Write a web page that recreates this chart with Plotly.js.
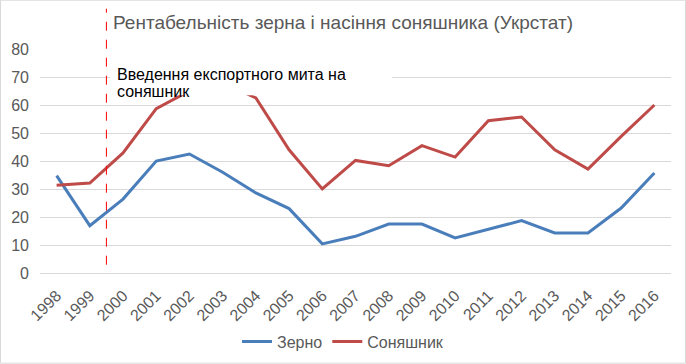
<!DOCTYPE html>
<html><head><meta charset="utf-8">
<script src="https://cdn.plot.ly/plotly-3.0.1.min.js"></script>
<style>html,body{margin:0;padding:0;background:#fff}#chart{width:686px;height:364px}</style>
</head><body><div id="chart"></div>
<script>
const years = [1998,1999,2000,2001,2002,2003,2004,2005,2006,2007,2008,2009,2010,2011,2012,2013,2014,2015,2016];
const zerno = [34.8,16.9,26.4,40.0,42.5,36.0,28.6,23.0,10.4,13.1,17.5,17.5,12.5,15.7,18.7,14.3,14.3,23.2,35.7];
const sonyashnyk = [31.3,32.1,42.9,58.7,65.0,68.0,62.5,44.0,30.0,40.2,38.3,45.5,41.4,54.4,55.7,44.0,37.1,48.8,60.0];
const seriesNames = ['Зерно','Соняшник'];
const titleText = 'Рентабельність зерна і насіння соняшника (Укрстат)';
const noteLine1 = 'Введення експортного мита на';
const noteLine2 = 'соняшник';
const dutyYear = 1999.5;

const font = 'Liberation Sans, Arial, sans-serif';
const traces = [
  {x: years, y: zerno, name: seriesNames[0], type: 'scatter', mode: 'lines',
   line: {color: '#4A7EBB', width: 3}},
  {x: years, y: sonyashnyk, name: seriesNames[1], type: 'scatter', mode: 'lines',
   line: {color: '#BE4B48', width: 3}}
];
const layout = {
  width: 686, height: 364,
  margin: {l: 40, r: 15, t: 49.3, b: 90.7, autoexpand: false},
  paper_bgcolor: '#fff', plot_bgcolor: '#fff',
  font: {family: font, color: '#595959', size: 16},
  title: {text: titleText, xref: 'container', yref: 'container', x: 113/686, xanchor: 'left',
          y: 1 - 22/364, yanchor: 'middle', font: {family: font, size: 19, color: '#595959'}},
  xaxis: {range: [1997.5, 2016.5], tickmode: 'array', tickvals: years, ticktext: years.map(String),
          tickangle: -45, showgrid: false, zeroline: false, showline: true, linecolor: '#D9D9D9',
          ticks: '', tickfont: {size: 16, color: '#595959'}, ticklabelstandoff: 6, automargin: false, fixedrange: true},
  yaxis: {range: [0, 80], dtick: 10, showgrid: true, gridcolor: '#D9D9D9', gridwidth: 1,
          zeroline: false, showline: false, ticks: '', tickfont: {size: 16, color: '#595959'},
          ticklabelstandoff: 10, automargin: false, fixedrange: true},
  showlegend: true,
  legend: {orientation: 'h', x: (343-40)/631, xanchor: 'center', y: (273.3-342)/224, yanchor: 'middle',
           font: {size: 16, color: '#595959'}, itemwidth: 30, bgcolor: 'rgba(0,0,0,0)'},
  shapes: [
    {type: 'rect', xref: 'paper', yref: 'paper', x0: -39.5/631, x1: 645.5/631,
     y0: (273.3-363.5)/224, y1: (273.3-0.5)/224, line: {color: '#D9D9D9', width: 1}, layer: 'below'},
    {type: 'line', xref: 'x', yref: 'paper', x0: dutyYear, x1: dutyYear,
     y0: (273.3-265)/224, y1: (273.3-9)/224, line: {color: '#FF0000', width: 1, dash: 'dash'}},
    {type: 'rect', xref: 'paper', yref: 'paper', x0: (110-40)/631, x1: (392-40)/631,
     y0: (273.3-95.5)/224, y1: (273.3-58)/224, fillcolor: '#FFFFFF', line: {width: 0}, layer: 'above'}
  ],
  annotations: [
    {text: noteLine1, xref: 'paper', yref: 'paper', x: (115-40)/631, xanchor: 'left',
     y: (273.3-75)/224, yanchor: 'middle', showarrow: false, font: {size: 16, color: '#000'}},
    {text: noteLine2, xref: 'paper', yref: 'paper', x: (115-40)/631, xanchor: 'left',
     y: (273.3-92)/224, yanchor: 'middle', showarrow: false, font: {size: 16, color: '#000'}}
  ]
};
Plotly.newPlot('chart', traces, layout, {displayModeBar: false, staticPlot: true});
</script></body></html>
